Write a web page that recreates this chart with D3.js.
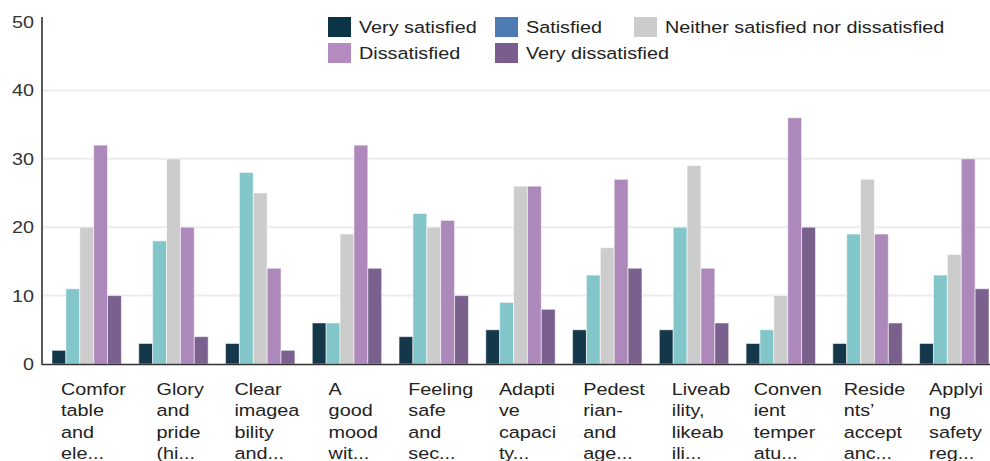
<!DOCTYPE html>
<html>
<head>
<meta charset="utf-8">
<script src="https://cdn.jsdelivr.net/npm/d3@7"></script>
<style>
  body { margin: 0; background: #fff; }
  svg { display: block; font-family: "Liberation Sans", Arial, sans-serif; }
</style>
</head>
<body>
<script>
// Category labels as displayed (already wrapped and truncated in the original)
const categories = [
  "Comfor\ntable\nand\nele...",
  "Glory\nand\npride\n(hi...",
  "Clear\nimagea\nbility\nand...",
  "A\ngood\nmood\nwit...",
  "Feeling\nsafe\nand\nsec...",
  "Adapti\nve\ncapaci\nty...",
  "Pedest\nrian-\nand\nage...",
  "Liveab\nility,\nlikeab\nili...",
  "Conven\nient\ntemper\natu...",
  "Reside\nnts’\naccept\nanc...",
  "Applyi\nng\nsafety\nreg..."
];

const seriesNames = ["Very satisfied", "Satisfied", "Neither satisfied nor dissatisfied", "Dissatisfied", "Very dissatisfied"];

const verySatisfied    = [2, 3, 3, 6, 4, 5, 5, 5, 3, 3, 3];
const satisfied        = [11, 18, 28, 6, 22, 9, 13, 20, 5, 19, 13];
const neither          = [20, 30, 25, 19, 20, 26, 17, 29, 10, 27, 16];
const dissatisfied     = [32, 20, 14, 32, 21, 26, 27, 14, 36, 19, 30];
const veryDissatisfied = [10, 4, 2, 14, 10, 8, 14, 6, 20, 6, 11];

const yTicks = [0, 10, 20, 30, 40, 50];

const barColors = ["#15374a", "#82c6ca", "#cccccc", "#ad89bb", "#79608d"];
const legendColors = ["#0b3546", "#4e7bb3", "#cccccc", "#b48ac0", "#7a5c8f"];

const series = [verySatisfied, satisfied, neither, dissatisfied, veryDissatisfied];

const width = 990, height = 461;
// the original text is a little wider than Arial at the same height
const stretch = 1.165;

const svg = d3.select("body").append("svg")
  .attr("width", width)
  .attr("height", height);

// Scales
let x0 = d3.scaleBand()
  .domain(d3.range(categories.length))
  .range([52, 989])
  .paddingInner(0.2)
  .paddingOuter(0);

let x1 = d3.scaleBand()
  .domain(d3.range(seriesNames.length))
  .range([0, x0.bandwidth()])
  .padding(0);

let y = d3.scaleLinear()
  .domain([0, 50])
  .range([364, 22]);

// Grid lines
svg.append("g")
  .selectAll("line")
  .data(yTicks.filter(t => t > 0 && t < 50))
  .join("line")
  .attr("x1", 43)
  .attr("x2", width)
  .attr("y1", d => y(d))
  .attr("y2", d => y(d))
  .attr("stroke", "#ececec")
  .attr("stroke-width", 2);

// Y axis labels
const yAxis = svg.append("g")
  .attr("transform", "translate(42,0)")
  .call(d3.axisLeft(y).tickValues(yTicks).tickSize(0).tickPadding(8));
yAxis.select(".domain").remove();
yAxis.selectAll("text")
  .attr("x", 0)
  .attr("transform", `translate(-8,0) scale(${stretch},1)`)
  .attr("font-size", 17)
  .attr("font-family", "Liberation Sans, Arial, sans-serif")
  .attr("fill", "#333");

// Bars
const groups = svg.append("g")
  .selectAll("g")
  .data(categories.map((c, i) => i))
  .join("g")
  .attr("transform", i => `translate(${x0(i)},0)`);

groups.selectAll("rect")
  .data(i => series.map((s, k) => ({ k: k, v: s[i] })))
  .join("rect")
  .attr("x", d => x1(d.k))
  .attr("y", d => y(d.v))
  .attr("width", x1.bandwidth())
  .attr("height", d => y(0) - y(d.v))
  .attr("fill", d => barColors[d.k])
  .attr("stroke", "#fff")
  .attr("stroke-opacity", 0.55)
  .attr("stroke-width", 1);

// Axis lines
svg.append("line")
  .attr("x1", 42).attr("x2", 42)
  .attr("y1", 17).attr("y2", 365)
  .attr("stroke", "#222").attr("stroke-width", 1.5);

svg.append("line")
  .attr("x1", 42).attr("x2", width)
  .attr("y1", 364.5).attr("y2", 364.5)
  .attr("stroke", "#333").attr("stroke-width", 1.5);

// X labels: left-aligned block centred under each group
const labels = svg.append("g")
  .attr("font-size", 17)
  .attr("fill", "#222")
  .selectAll("text")
  .data(categories.map((c, i) => ({ i: i, lines: c.split("\n") })))
  .join("text");

labels.selectAll("tspan")
  .data(d => d.lines)
  .join("tspan")
  .attr("x", 0)
  .attr("dy", (d, j) => j === 0 ? 0 : 21.3)
  .text(d => d);

labels.each(function(d) {
  const w = this.getBBox().width * stretch;
  let left = x0(d.i) + x0.bandwidth() / 2 + 7 - w / 2;
  left = Math.min(left, width - 7 - w);
  d3.select(this).attr("transform", `translate(${left},395) scale(${stretch},1)`);
});

// Legend
const legendPos = [
  [328, 17], [495, 17], [634, 17],
  [328, 43], [495, 43]
];

const legend = svg.append("g")
  .selectAll("g")
  .data(seriesNames)
  .join("g")
  .attr("transform", (d, i) => `translate(${legendPos[i][0]},${legendPos[i][1]})`);

legend.append("rect")
  .attr("width", 23)
  .attr("height", 20)
  .attr("fill", (d, i) => legendColors[i]);

legend.append("text")
  .attr("transform", `translate(31,10) scale(${stretch},1)`)
  .attr("dy", "0.35em")
  .attr("font-size", 17)
  .attr("fill", "#222")
  .text(d => d);
</script>
</body>
</html>
